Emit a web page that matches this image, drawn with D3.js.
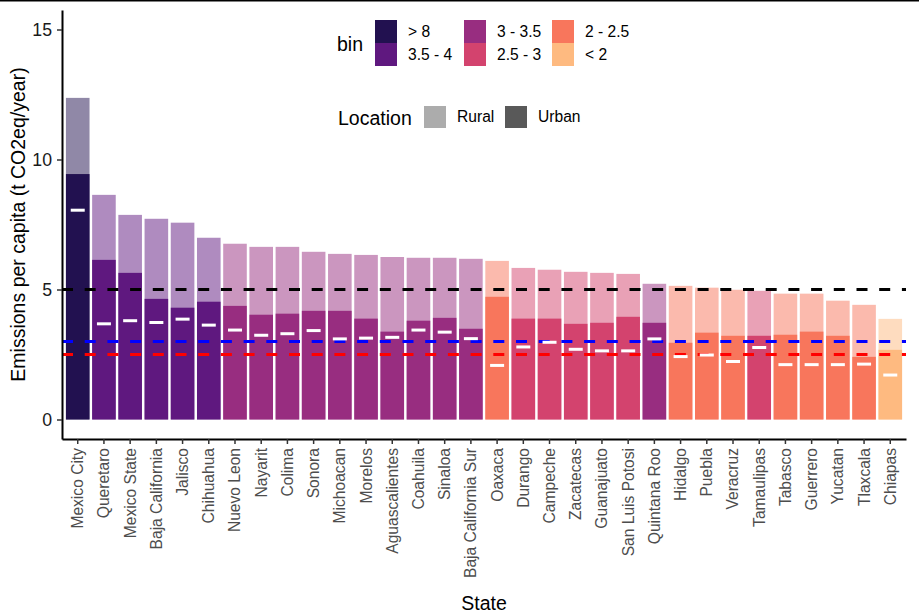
<!DOCTYPE html>
<html><head><meta charset="utf-8">
<script src="https://cdn.jsdelivr.net/npm/d3@7"></script>
<style>body{margin:0;background:#fff}svg{display:block;font-family:"Liberation Sans",Arial,sans-serif}</style>
</head><body><svg id="c" width="919" height="616"></svg>
<script>
const states = ["Mexico City","Queretaro","Mexico State","Baja California","Jalisco","Chihuahua","Nuevo Leon","Nayarit","Colima","Sonora","Michoacan","Morelos","Aguascalientes","Coahuila","Sinaloa","Baja California Sur","Oaxaca","Durango","Campeche","Zacatecas","Guanajuato","San Luis Potosi","Quintana Roo","Hidalgo","Puebla","Veracruz","Tamaulipas","Tabasco","Guerrero","Yucatan","Tlaxcala","Chiapas"];
const rural = [12.37,8.64,7.87,7.72,7.57,6.99,6.76,6.64,6.64,6.45,6.37,6.33,6.25,6.22,6.22,6.18,6.10,5.83,5.76,5.68,5.64,5.60,5.22,5.14,5.07,4.99,4.95,4.84,4.84,4.57,4.41,3.87];
const urban = [9.44,6.14,5.64,4.64,4.30,4.53,4.37,4.03,4.07,4.18,4.18,3.88,3.38,3.80,3.91,3.49,4.72,3.88,3.88,3.68,3.72,3.95,3.72,2.95,3.34,3.22,3.22,3.26,3.38,3.22,2.41,2.68];
const average = [8.05,3.68,3.80,3.73,3.86,3.63,3.44,3.24,3.30,3.42,3.10,3.13,3.16,3.44,3.36,3.11,2.08,2.79,2.97,2.70,2.64,2.64,3.10,2.42,2.48,2.23,2.77,2.11,2.11,2.11,2.13,1.71];
const bins = ["> 8","3.5 - 4","3.5 - 4","3.5 - 4","3.5 - 4","3.5 - 4","3 - 3.5","3 - 3.5","3 - 3.5","3 - 3.5","3 - 3.5","3 - 3.5","3 - 3.5","3 - 3.5","3 - 3.5","3 - 3.5","2 - 2.5","2.5 - 3","2.5 - 3","2.5 - 3","2.5 - 3","2.5 - 3","3 - 3.5","2 - 2.5","2 - 2.5","2 - 2.5","2.5 - 3","2 - 2.5","2 - 2.5","2 - 2.5","2 - 2.5","< 2"];
const binLevels = ["> 8","3.5 - 4","3 - 3.5","2.5 - 3","2 - 2.5","< 2"];
const binColors = ["#221150","#5F187F","#982D80","#D3436E","#F8765C","#FEBA80"];
const refValues = [5, 3, 2.5];
const refColors = ["#000000","#0000FF","#FF0000"];
const yTicks = [0,5,10,15];
const locations = ["Rural","Urban"];

const svg = d3.select("#c");
const L=62, R=906, T=10, B=439;
const x = d3.scaleBand().domain(states).range([L,R]).paddingInner(0.1).paddingOuter(0.15);
const y = d3.scaleLinear().domain([-0.75,15.75]).range([B,T]);
const col = d3.scaleOrdinal().domain(binLevels).range(binColors);

// top border
svg.append("line").attr("x1",0).attr("x2",919).attr("y1",0.75).attr("y2",0.75).attr("stroke","#000").attr("stroke-width",1.5);

const data = states.map((s,i)=>({s, rural:rural[i], urban:urban[i], avg:average[i], bin:bins[i]}));

// rural bars (total)
svg.append("g").selectAll("rect").data(data).join("rect")
  .attr("x",d=>x(d.s)).attr("width",x.bandwidth())
  .attr("y",d=>y(d.rural)).attr("height",d=>y(0)-y(d.rural))
  .attr("fill",d=>col(d.bin)).attr("fill-opacity",0.5);
// urban bars
svg.append("g").selectAll("rect").data(data).join("rect")
  .attr("x",d=>x(d.s)).attr("width",x.bandwidth())
  .attr("y",d=>y(d.urban)).attr("height",d=>y(0)-y(d.urban))
  .attr("fill",d=>col(d.bin));

// reference lines
svg.append("g").selectAll("line").data(refValues).join("line")
  .attr("x1",L).attr("x2",R).attr("y1",d=>y(d)).attr("y2",d=>y(d))
  .attr("stroke",(d,i)=>refColors[i]).attr("stroke-width",3)
  .attr("stroke-dasharray","11,11.7");

// average marks
svg.append("g").selectAll("line").data(data).join("line")
  .attr("x1",d=>x(d.s)+x.bandwidth()/2-7).attr("x2",d=>x(d.s)+x.bandwidth()/2+7)
  .attr("y1",d=>y(d.avg)).attr("y2",d=>y(d.avg))
  .attr("stroke","#fff").attr("stroke-width",3);

// axes
const ya = svg.append("g").attr("transform",`translate(${L},0)`)
  .call(d3.axisLeft(y).tickValues(yTicks).tickSize(5).tickSizeOuter(0).tickPadding(5));
ya.select(".domain").attr("stroke","#000").attr("stroke-width",2);
ya.selectAll(".tick line").attr("stroke","#333").attr("stroke-width",1.5);
ya.selectAll(".tick text").attr("fill","#1a1a1a").style("font-size","17.7px").style("font-family","'Liberation Sans',Arial,sans-serif");

const xa = svg.append("g").attr("transform",`translate(0,${B})`)
  .call(d3.axisBottom(x).tickSize(5).tickSizeOuter(0));
xa.select(".domain").attr("stroke","#000").attr("stroke-width",2);
xa.selectAll(".tick line").attr("stroke","#333").attr("stroke-width",1.5);
xa.selectAll(".tick text").attr("fill","#4d4d4d").style("font-size","15.6px").style("font-family","'Liberation Sans',Arial,sans-serif")
  .attr("transform","rotate(-90)").attr("x",-9).attr("y",0).attr("dy","0.35em").style("text-anchor","end");

// axis titles
svg.append("text").attr("x",(L+R)/2).attr("y",610).attr("text-anchor","middle").style("font-size","19.5px").attr("fill","#000").text("State");
svg.append("text").attr("transform",`translate(24.5,${(T+B)/2}) rotate(-90)`).attr("text-anchor","middle").style("font-size","19.5px").attr("fill","#000").text("Emissions per capita (t CO2eq/year)");

// bin legend
const lg = svg.append("g");
lg.append("text").attr("x",337).attr("y",44).attr("dy","0.35em").style("font-size","19.5px").text("bin");
const colX = [375,464,552];
binLevels.forEach((b,i)=>{
  const c = Math.floor(i/2), r = i%2;
  lg.append("rect").attr("x",colX[c]).attr("y",20+r*23).attr("width",22).attr("height",23).attr("fill",binColors[i]);
  lg.append("text").attr("x",colX[c]+33).attr("y",31.5+r*23).attr("dy","0.35em").style("font-size","15.6px").text(b);
});
// location legend
lg.append("text").attr("x",338).attr("y",118).attr("dy","0.35em").style("font-size","19.5px").text("Location");
const locX=[424,505];
locations.forEach((l,i)=>{
  lg.append("rect").attr("x",locX[i]).attr("y",106).attr("width",22).attr("height",22).attr("fill","#595959").attr("fill-opacity",i===0?0.5:1);
  lg.append("text").attr("x",locX[i]+33).attr("y",117).attr("dy","0.35em").style("font-size","15.6px").text(l);
});
</script></body></html>
